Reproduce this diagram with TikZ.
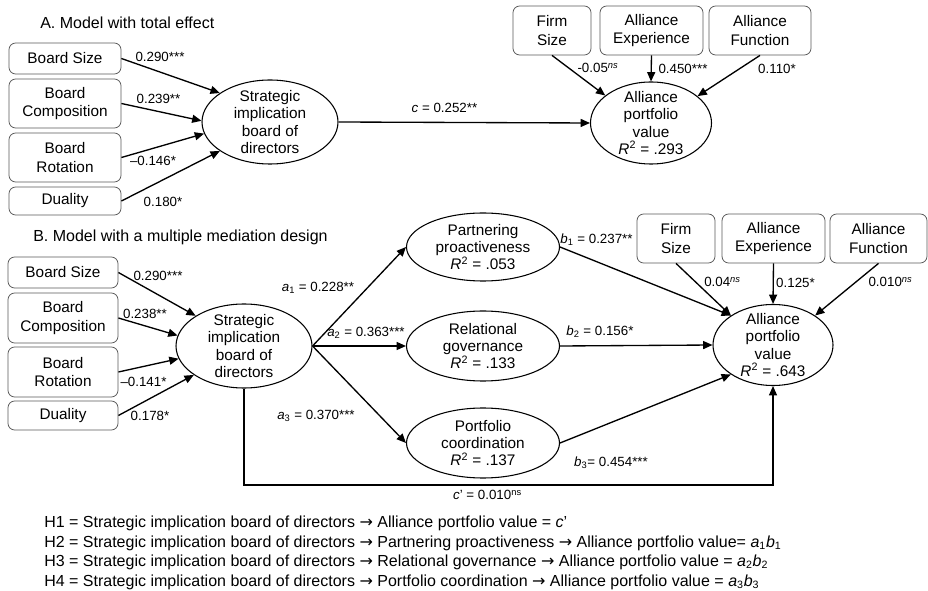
\documentclass[tikz,border=0pt]{standalone}
\usepackage{fontspec}
\setmainfont{Liberation Sans}
\newfontfamily\arrowfont{DejaVu Sans}
\usepackage{tikz}
\usetikzlibrary{shapes.geometric,arrows.meta}
\newcommand{\yields}{{\arrowfont →}}

\begin{document}
\begin{tikzpicture}[x=0.75pt,y=-0.75pt,
        box/.style={draw=black!65,line width=0.6pt,rounded corners=5pt,align=center,inner sep=0pt,font=\fontsize{11.5}{13.6}\selectfont},
        latent/.style={draw,ellipse,line width=0.8pt,inner sep=0pt},
        txt/.style={align=center,inner sep=0pt,font=\fontsize{11.5}{13}\selectfont},
        effect/.style={line width=1pt,-{Triangle[length=7pt,width=6pt]}},
        coef/.style={inner sep=0pt,font=\fontsize{10}{12}\selectfont},
        paneltitle/.style={anchor=west,inner sep=0pt,font=\fontsize{12}{14}\selectfont},
        hyp/.style={anchor=west,inner sep=0pt,font=\fontsize{12}{14}\selectfont}]
        \useasboundingbox (0,0) rectangle (928,591);

        \node[paneltitle] (titleA) at (40,23) {A. Model with total effect};
        \node[box,minimum width=84pt,minimum height=23.25pt] (sizeA) at (65,58.5) {Board Size};
        \node[box,minimum width=84pt,minimum height=36.75pt] (compA) at (65,103.5) {Board\\Composition};
        \node[box,minimum width=84pt,minimum height=36.75pt] (rotA) at (65,157.5) {Board\\Rotation};
        \node[box,minimum width=84pt,minimum height=21pt] (dualA) at (65,201) {Duality};
        \node[latent,minimum width=102pt,minimum height=63pt] (sibA) at (270,122) {};
        \node[txt] (sibAtext) at (sibA) {Strategic\\implication\\board of\\directors};
        \node[latent,minimum width=90.75pt,minimum height=61.5pt] (apvA) at (651,123) {};
        \node[txt] (apvAtext) at (apvA) {Alliance\\portfolio\\value\\\textit{R}\textsuperscript{2} = .293};
        \node[box,minimum width=58.5pt,minimum height=36.75pt] (fsA) at (552,30.5) {Firm\\Size};
        \node[box,minimum width=77.25pt,minimum height=36.75pt] (aeA) at (651.5,30.5) {Alliance\\Experience};
        \node[box,minimum width=76.5pt,minimum height=36.75pt] (afA) at (760,30.5) {Alliance\\Function};

        \draw[effect] (sizeA.east) -- (sibA.150);
        \draw[effect] (compA.east) -- (sibA.179);
        \draw[effect] (rotA.east) -- (sibA.190);
        \draw[effect] (dualA.east) -- (sibA.210);
        \draw[effect] (sibA.east) -- (apvA.west);
        \draw[effect] (fsA.south) -- (apvA.149);
        \draw[effect] (aeA.south) -- (apvA.north);
        \draw[effect] (afA.south) -- (apvA.30);

        \node[coef] (csizeA) at (160,57) {0.290***};
        \node[coef] (ccompA) at (158.5,99) {0.239**};
        \node[coef] (crotA) at (153,161) {–0.146*};
        \node[coef] (cdualA) at (163,202) {0.180*};
        \node[coef] (ctotal) at (444.5,108) {\textit{c} = 0.252**};
        \node[coef] (cfsA) at (598,68) {-0.05\textsuperscript{\textit{ns}}};
        \node[coef] (caeA) at (683,69) {0.450***};
        \node[coef] (cafA) at (777,69) {0.110*};

        \node[paneltitle] (titleB) at (33,237) {B. Model with a multiple mediation design};
        \node[box,minimum width=82.5pt,minimum height=23.25pt] (sizeB) at (63,272.5) {Board Size};
        \node[box,minimum width=82.5pt,minimum height=37.5pt] (compB) at (63,318) {Board\\Composition};
        \node[box,minimum width=82.5pt,minimum height=37.5pt] (rotB) at (63,372) {Board\\Rotation};
        \node[box,minimum width=82.5pt,minimum height=21.75pt] (dualB) at (63,415.5) {Duality};
        \node[latent,minimum width=102pt,minimum height=63pt] (sibB) at (244,346) {};
        \node[txt] (sibBtext) at (sibB) {Strategic\\implication\\board of\\directors};
        \node[latent,minimum width=114.75pt,minimum height=51pt] (pp) at (483,247) {};
        \node[txt] (pptext) at (pp) {Partnering\\proactiveness\\\textit{R}\textsuperscript{2} = .053};
        \node[latent,minimum width=114.75pt,minimum height=52.5pt] (rg) at (483,346) {};
        \node[txt] (rgtext) at (rg) {Relational\\governance\\\textit{R}\textsuperscript{2} = .133};
        \node[latent,minimum width=114.75pt,minimum height=52.5pt] (pc) at (483,443) {};
        \node[txt] (pctext) at (pc) {Portfolio\\coordination\\\textit{R}\textsuperscript{2} = .137};
        \node[latent,minimum width=90pt,minimum height=60.75pt] (apvB) at (773,345) {};
        \node[txt] (apvBtext) at (apvB) {Alliance\\portfolio\\value\\\textit{R}\textsuperscript{2} = .643};
        \node[box,minimum width=58.5pt,minimum height=36.75pt] (fsB) at (676,238.5) {Firm\\Size};
        \node[box,minimum width=77.25pt,minimum height=36.75pt] (aeB) at (773.5,238.5) {Alliance\\Experience};
        \node[box,minimum width=72.75pt,minimum height=36.75pt] (afB) at (878.5,238.5) {Alliance\\Function};
        \coordinate (direct) at (244,485);

        \draw[effect] (sizeB.east) -- (sibB.148);
        \draw[effect] (compB.east) -- (sibB.171);
        \draw[effect] (rotB.east) -- (sibB.191);
        \draw[effect] (dualB.east) -- (sibB.210);
        \draw[effect] (sibB.east) -- (pp.west);
        \draw[effect] (sibB.east) -- (rg.west);
        \draw[effect] (sibB.east) -- (pc.west);
        \draw[effect] (pp.east) -- (apvB.145);
        \draw[effect] (rg.east) -- (apvB.west);
        \draw[effect] (pc.east) -- (apvB.215);
        \draw[effect] (sibB.south) -- (direct) -| (apvB.south);
        \draw[effect] (fsB.south) -- (apvB.145);
        \draw[effect] (aeB.south) -- (apvB.north);
        \draw[effect] (afB.south) -- (apvB.35);

        \node[coef] (csizeB) at (158,276) {0.290***};
        \node[coef] (ccompB) at (145,314) {0.238**};
        \node[coef] (crotB) at (143.5,382) {–0.141*};
        \node[coef] (cdualB) at (150,416) {0.178*};
        \node[coef] (ca1) at (318,288) {\textit{a}\textsubscript{1} = 0.228**};
        \node[coef] (ca2) at (366,333) {\textit{a}\textsubscript{2} = 0.363***};
        \node[coef] (ca3) at (316,416) {\textit{a}\textsubscript{3} = 0.370***};
        \node[coef] (cb1) at (596.5,240) {\textit{b}\textsubscript{1} = 0.237**};
        \node[coef] (cb2) at (600,332) {\textit{b}\textsubscript{2} = 0.156*};
        \node[coef] (cb3) at (611,463) {\textit{b}\textsubscript{3}= 0.454***};
        \node[coef] (cfsB) at (722.5,282) {0.04\textsuperscript{\textit{ns}}};
        \node[coef] (caeB) at (795.5,283) {0.125*};
        \node[coef] (cafB) at (890.5,282) {0.010\textsuperscript{\textit{ns}}};
        \node[coef] (cdirect) at (487.5,495) {\textit{c}’ = 0.010\textsuperscript{ns}};

        \node[hyp] (h1) at (44,523) {H1 = Strategic implication board of directors \yields{} Alliance portfolio value = \textit{c}’};
        \node[hyp] (h2) at (44,543) {H2 = Strategic implication board of directors \yields{} Partnering proactiveness \yields{} Alliance portfolio value= \textit{a}\textsubscript{1}\textit{b}\textsubscript{1}};
        \node[hyp] (h3) at (44,562) {H3 = Strategic implication board of directors \yields{} Relational governance \yields{} Alliance portfolio value = \textit{a}\textsubscript{2}\textit{b}\textsubscript{2}};
        \node[hyp] (h4) at (44,582) {H4 = Strategic implication board of directors \yields{} Portfolio coordination \yields{} Alliance portfolio value = \textit{a}\textsubscript{3}\textit{b}\textsubscript{3}};
    \end{tikzpicture}
\end{document}
